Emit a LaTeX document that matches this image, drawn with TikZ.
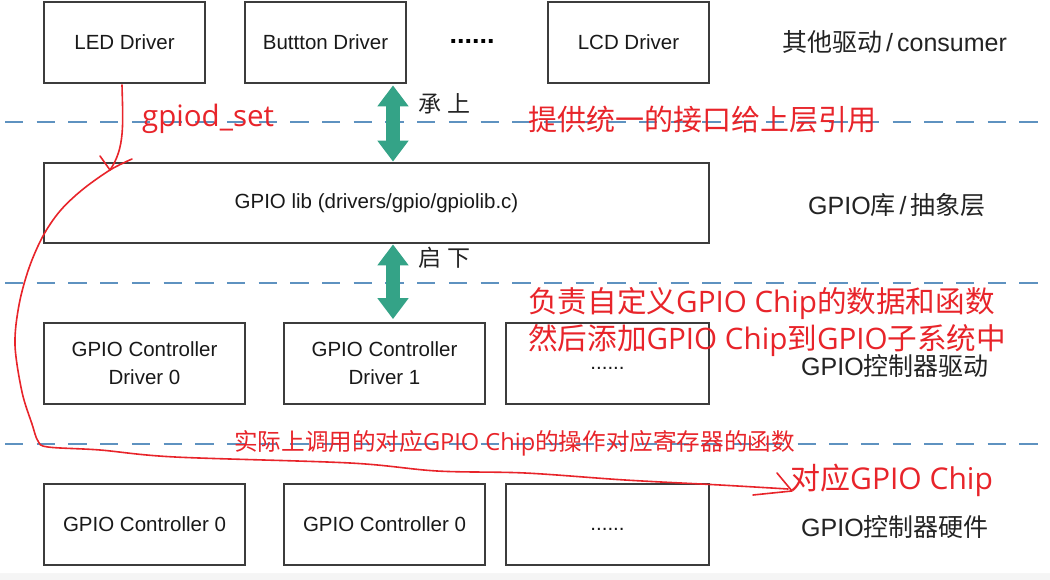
\documentclass[tikz,border=0pt]{standalone}
\usepackage{fontspec}
\setmainfont{Liberation Sans}
\newfontfamily\cjk{Noto Sans CJK SC}
\newfontfamily\osans{Open Sans}
\usetikzlibrary{arrows.meta}
\definecolor{redpen}{RGB}{232,36,42}
\definecolor{dashblue}{RGB}{94,146,192}
\definecolor{arrowgreen}{RGB}{52,163,135}
\definecolor{boxline}{RGB}{60,60,60}
\definecolor{labelgray}{RGB}{35,35,35}
\definecolor{bandgray}{RGB}{245,245,245}
\begin{document}
\begin{tikzpicture}[x=1pt,y=-1pt,
  box/.style={draw=boxline, line width=1.8pt, fill=white, minimum height=81pt, inner sep=0pt, align=center, font=\fontsize{20.5}{28}\selectfont, text=black!90},
  sep/.style={draw=dashblue, line width=2.4pt, dash pattern=on 18.3pt off 13.4pt},
  redtext/.style={text=redpen, anchor=west, inner sep=0pt},
  layerlabel/.style={anchor=west, inner sep=0pt, text=labelgray, font=\fontsize{25}{30}\selectfont},
  pen/.style={draw=redpen, line width=1.6pt, line cap=round, line join=round},
  greenarrow/.style={draw=arrowgreen, line width=14pt, {Triangle[width=30pt,length=21pt]}-{Triangle[width=30pt,length=21pt]}}
]
\useasboundingbox (0,0) rectangle (1050,580);
\fill[bandgray] (0,0) rectangle (1050,580);
\fill[white, rounded corners=10pt] (-20,-20) rectangle (1070,573);

% separators
\draw[sep] (5,122) -- (1050,122);
\draw[sep] (5,283) -- (1050,283);
\draw[sep] (5,444) -- (1050,444);

% top row
\node[box, minimum width=161pt] (led) at (124.5,42.5) {LED Driver};
\node[box, minimum width=161pt] (btn) at (325.5,42.5) {Buttton Driver};
\node[inner sep=0pt, font=\fontsize{27}{30}\selectfont\bfseries] (dots1) at (472,41) {......};
\node[box, minimum width=161pt] (lcd) at (628.5,42.5) {LCD Driver};

% gpiolib
\node[box, minimum width=665pt, minimum height=80pt] (lib) at (376.5,203) {GPIO lib (drivers/gpio/gpiolib.c)};

% controller drivers
\node[box, minimum width=201pt] (cd0) at (144.5,363.5) {GPIO Controller\\Driver 0};
\node[box, minimum width=201pt] (cd1) at (384.5,363.5) {GPIO Controller\\Driver 1};
\node[box, minimum width=203pt] (cd2) at (607.5,363.5) {\strut......};

% hardware
\node[box, minimum width=201pt] (hw0) at (144.5,524.5) {GPIO Controller 0};
\node[box, minimum width=201pt] (hw1) at (384.5,524.5) {GPIO Controller 0};
\node[box, minimum width=203pt] (hw2) at (607.5,524.5) {\strut......};

% green arrows
\coordinate (ax) at (393,0);
\draw[greenarrow, shorten <=1.5pt, shorten >=0.5pt] (btn.south -| ax) -- (lib.north -| ax);
\draw[greenarrow, shorten <=0.5pt, shorten >=3pt] (lib.south -| ax) -- (cd1.north -| ax);
\node[anchor=west, inner sep=0pt, text=labelgray, font=\cjk\fontsize{23}{28}\selectfont] (cs) at (418,104) {承\hspace{6pt}上};
\node[anchor=west, inner sep=0pt, text=labelgray, font=\cjk\fontsize{23}{28}\selectfont] (qx) at (418,258) {启\hspace{6pt}下};

% layer labels
\node[layerlabel] (l1) at (782,42) {{\cjk 其他驱动}\hspace{4pt}/\hspace{4pt}consumer};
\node[layerlabel] (l2) at (808,205) {GPIO{\cjk 库}\hspace{4pt}/\hspace{4pt}{\cjk 抽象层}};
\node[layerlabel] (l3) at (801,366) {GPIO{\cjk 控制器驱动}};
\node[layerlabel] (l4) at (801,527) {GPIO{\cjk 控制器硬件}};

% red annotations
\node[redtext, anchor=base west, font=\osans\fontsize{29.5}{34}\selectfont] (gs) at (142,127) {gpiod\_set};
\node[redtext, font=\cjk\fontsize{29}{34}\selectfont] (t1) at (528,120) {提供统一的接口给上层引用};
\node[redtext, font=\cjk\fontsize{29.6}{34}\selectfont] (t2) at (528,304) {负责自定义{\osans GPIO Chip}的数据和函数};
\node[redtext, font=\cjk\fontsize{29.6}{34}\selectfont] (t3) at (528,341) {然后添加{\osans GPIO Chip}到{\osans GPIO}子系统中};
\node[redtext, font=\cjk\fontsize{23.6}{29}\selectfont] (t4) at (234,443) {实际上调用的对应{\osans GPIO Chip}的操作对应寄存器的函数};
\node[redtext, font=\cjk\fontsize{30}{35}\selectfont] (t5) at (790,480) {对应{\osans GPIO Chip}};

% red hand-drawn path
\coordinate (r0) at (122,85);
\coordinate (r1) at (110,170);
\coordinate (r1a) at (100,156);
\coordinate (r1b) at (132,159);
\coordinate (r2) at (788,489);
\coordinate (r2a) at (777,473);
\coordinate (r2b) at (753,495);
\draw[pen] (r0) .. controls (123,125) and (125,148) .. (r1);
\draw[pen] (r1a) -- (r1);
\draw[pen] plot[smooth, tension=0.55] coordinates {(r1b) (r1) (82,190) (60,211) (43,236) (29,268) (19,305) (15,345) (22,392) (32,424) (38,441) (48,447) (100,450) (175,457) (350,463) (437,471) (525,473) (625,480) (720,485) (r2)};
\draw[pen] (r2a) -- (792,491) -- (r2b);
\end{tikzpicture}
\end{document}
